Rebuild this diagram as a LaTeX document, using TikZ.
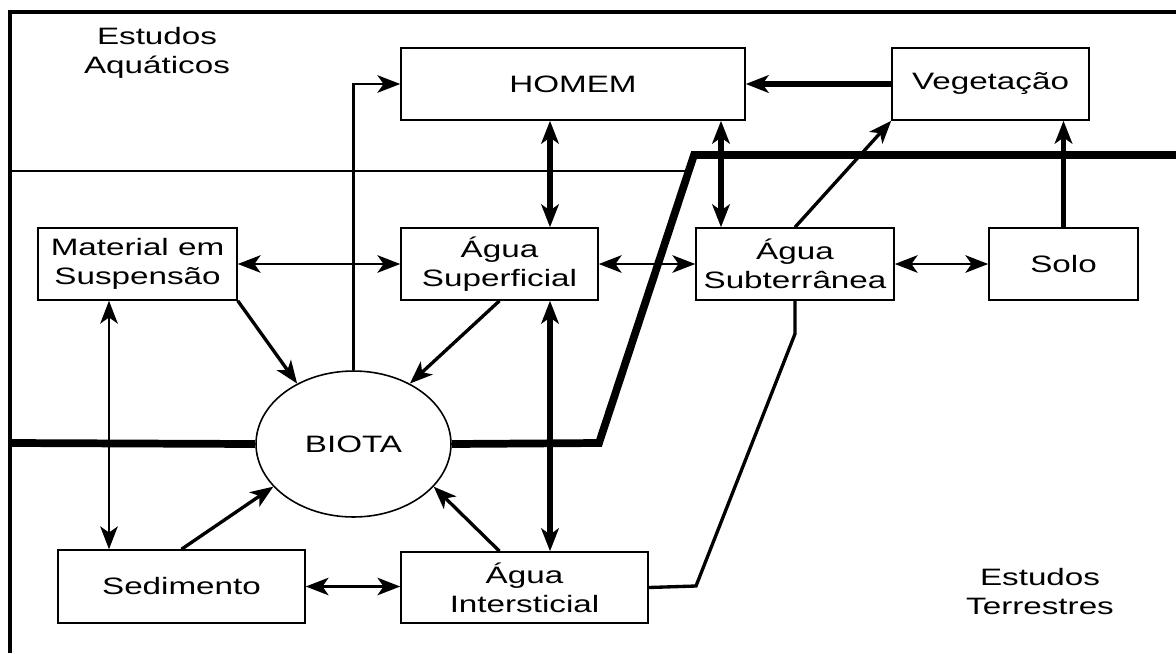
\documentclass[tikz,border=0pt]{standalone}
\usepackage{fontspec}
\setmainfont{Liberation Sans}[FakeStretch=1.4]
\usepackage{tikz}
\usetikzlibrary{arrows.meta, shapes.geometric}

\begin{document}
\begin{tikzpicture}[x=0.02cm, y=-0.02cm,
        font=\fontsize{13.5}{16.5}\selectfont,
        >={Stealth[length=13pt, width=10pt, inset=3.5pt]},
        bloco/.style={draw, line width=0.9pt, align=center, inner sep=0pt, minimum height=1.44cm},
        rotulo/.style={align=center, inner sep=0pt},
        fina/.style={line width=1.2pt},
        media/.style={line width=1.9pt},
        grossa/.style={line width=2.9pt},
        limite/.style={line width=4.4pt}]
        \useasboundingbox (0,0) rectangle (1176,653);

        % Region labels
        \node[rotulo] (aquat) at (157,53) {Estudos\\Aquáticos};
        \node[rotulo] (terr) at (1040,592) {Estudos\\Terrestres};

        % 1. Compartments
        \node[bloco, minimum width=6.88cm] (homem) at (573,84) {HOMEM};
        \node[bloco, minimum width=3.94cm] (veg) at (990.5,84) {Vegetação};
        \node[bloco, minimum width=3.98cm] (mat) at (137.5,264) {Material em\\Suspensão};
        \node[bloco, minimum width=3.94cm] (sup) at (499.5,264) {Água\\Superficial};
        \node[bloco, minimum width=3.96cm] (sub) at (795,264) {Água\\Subterrânea};
        \node[bloco, minimum width=2.98cm] (solo) at (1063.5,264) {Solo};
        \node[draw, ellipse, line width=0.9pt, inner sep=0pt, minimum width=3.9cm, minimum height=2.92cm] (biota) at (353.5,444) {BIOTA};
        \node[bloco, minimum width=4.94cm, minimum height=1.46cm] (sed) at (181.5,586.5) {Sedimento};
        \node[bloco, minimum width=4.94cm, minimum height=1.42cm] (int) at (524.5,587.5) {Água\\Intersticial};

        % 2. Frame and boundaries
        \draw[line width=1.8pt] (10,653) -- (10,12) -- (1176,12);
        \draw[fina] (10,171) -- (689,171);
        \draw[limite] (10,443) -- (biota.west);
        \draw[limite] (biota.east) -- (599,443) -- (694,155) -- (1176,155);

        % 3. Exchanges
        \coordinate (xa) at (550,0);
        \coordinate (xb) at (721,0);
        \coordinate (xd) at (109,0);
        \draw[fina, <->] (mat.east) -- (sup.west);
        \draw[fina, <->] (sup.east) -- (sub.west);
        \draw[fina, <->] (sub.east) -- (solo.west);
        \draw[fina, <->] (sed.east) -- (sed.east -| int.west);
        \draw[fina, <->] (mat.south -| xd) -- (sed.north -| xd);
        \draw[grossa, <->] (homem.south -| xa) -- (sup.north -| xa);
        \draw[grossa, <->] (homem.south -| xb) -- (sub.north -| xb);
        \draw[grossa, <->] (sup.south -| xa) -- (int.north -| xa);
        \draw[grossa, ->] (veg.west) -- (homem.east);
        \draw[grossa, ->] (solo.north) -- (solo.north |- veg.south);
        \draw[media, ->] (sub.north) -- (veg.south west);

        % 4. Fluxes into the biota
        \draw[media, ->] (mat.south east) -- (biota.133);
        \draw[media, ->] (sup.south) -- (biota.47);
        \draw[media, ->] (sed.north) -- (biota.208);
        \draw[media, ->] (int.north -| sup.south) -- (biota.332);
        \draw[fina, ->] (biota.north) |- (homem.west);

        % Groundwater to interstitial water
        \draw[media] (sub.south) -- ++(0,33) -- (696,586) -- (int.east);

    \end{tikzpicture}
\end{document}
